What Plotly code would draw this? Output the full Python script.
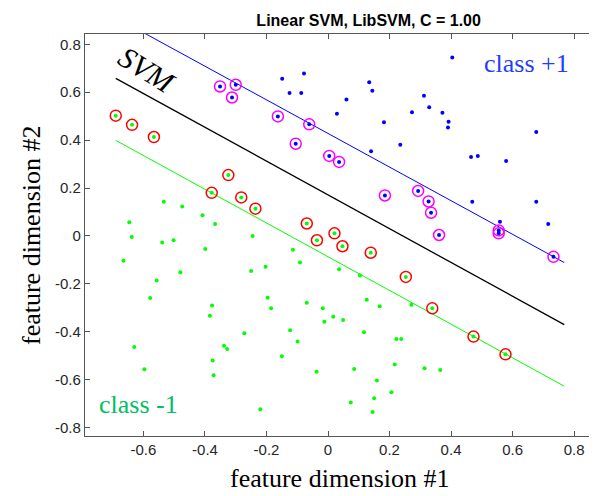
import plotly.graph_objects as go

# ---- data ----
pos_sv_x = [-0.351, -0.300, -0.312, -0.163, -0.061, -0.105, 0.004, 0.036, 0.185, 0.293, 0.327, 0.335, 0.361, 0.555, 0.555, 0.733]
pos_sv_y = [0.624, 0.631, 0.578, 0.499, 0.466, 0.385, 0.334, 0.309, 0.169, 0.188, 0.144, 0.097, 0.004, 0.023, 0.011, -0.087]

pos_x = [-0.149, -0.078, -0.125, -0.087, 0.029, 0.404, 0.134, 0.144, 0.060, 0.312, 0.329, 0.273, 0.372,
         0.182, 0.392, 0.390, 0.235, 0.140, 0.677, 0.465, 0.487, 0.579, 0.469, 0.677, 0.559, 0.716]
pos_y = [0.656, 0.678, 0.597, 0.597, 0.510, 0.745, 0.642, 0.606, 0.570, 0.585, 0.537, 0.516, 0.514,
         0.475, 0.477, 0.453, 0.381, 0.354, 0.434, 0.330, 0.334, 0.313, 0.143, 0.143, 0.059, 0.050]

neg_sv_x = [-0.690, -0.637, -0.566, -0.324, -0.378, -0.282, -0.236, -0.069, -0.036, 0.021,
            0.047, 0.139, 0.253, 0.339, 0.473, 0.577]
neg_sv_y = [0.502, 0.464, 0.413, 0.254, 0.180, 0.161, 0.114, 0.052, -0.018, 0.011,
            -0.043, -0.070, -0.171, -0.302, -0.420, -0.494]

neg_x = [-0.534, -0.474, -0.408, -0.367, -0.646, -0.638, -0.245, -0.539, -0.502, -0.665, -0.399, -0.480,
         -0.557, -0.578, -0.377, -0.384, -0.630, -0.597, -0.338, -0.328, -0.375, -0.372, -0.220, -0.272,
         -0.250, -0.203, -0.196, -0.185, -0.114, -0.091, -0.069, -0.017, -0.012, 0.017, -0.123, -0.099,
         -0.150, -0.037, 0.036, 0.104, 0.049, 0.126, 0.168, 0.271, 0.117, 0.222, 0.238, 0.085, 0.217,
         0.314, 0.365, 0.159, 0.206, 0.150, 0.074, 0.145]
neg_y = [0.143, 0.123, 0.086, 0.050, 0.057, -0.004, 0.000, -0.027, -0.018, -0.104, -0.054, -0.151,
         -0.186, -0.259, -0.290, -0.333, -0.463, -0.556, -0.458, -0.472, -0.520, -0.581, -0.723, -0.406,
         -0.146, -0.129, -0.258, -0.302, -0.058, -0.111, -0.279, -0.302, -0.358, -0.337, -0.394, -0.441,
         -0.502, -0.567, -0.139, -0.165, -0.351, -0.266, -0.293, -0.287, -0.402, -0.430, -0.430, -0.555,
         -0.537, -0.552, -0.560, -0.603, -0.652, -0.677, -0.695, -0.735]

line_x = [-0.69, 0.768]
svm_y = [0.658, -0.370]
pos_margin_y = [0.912, -0.111]
neg_margin_y = [0.399, -0.627]

tick_vals_x = [-0.6, -0.4, -0.2, 0, 0.2, 0.4, 0.6, 0.8]
tick_text_x = ["-0.6", "-0.4", "-0.2", "0", "0.2", "0.4", "0.6", "0.8"]
tick_vals_y = [-0.8, -0.6, -0.4, -0.2, 0, 0.2, 0.4, 0.6, 0.8]
tick_text_y = ["-0.8", "-0.6", "-0.4", "-0.2", "0", "0.2", "0.4", "0.6", "0.8"]

serif = "Liberation Serif, Times New Roman, serif"
sans = "Liberation Sans, Arial, Helvetica, sans-serif"

fig = go.Figure()
fig.add_trace(go.Scatter(x=line_x, y=pos_margin_y, mode="lines", line=dict(color="#0000ff", width=1), showlegend=False))
fig.add_trace(go.Scatter(x=line_x, y=svm_y, mode="lines", line=dict(color="#000000", width=1.3), showlegend=False))
fig.add_trace(go.Scatter(x=line_x, y=neg_margin_y, mode="lines", line=dict(color="#00ff00", width=1), showlegend=False))

fig.add_trace(go.Scatter(x=pos_sv_x, y=pos_sv_y, mode="markers",
                         marker=dict(symbol="circle-open", size=11, color="#ff00ff", line=dict(width=1.5)), showlegend=False))
fig.add_trace(go.Scatter(x=neg_sv_x, y=neg_sv_y, mode="markers",
                         marker=dict(symbol="circle-open", size=11, color="#ff0000", line=dict(width=1.5)), showlegend=False))
fig.add_trace(go.Scatter(x=pos_x + pos_sv_x, y=pos_y + pos_sv_y, mode="markers",
                         marker=dict(size=4, color="#0000ff"), showlegend=False))
fig.add_trace(go.Scatter(x=neg_x + neg_sv_x, y=neg_y + neg_sv_y, mode="markers",
                         marker=dict(size=4, color="#00ff00"), showlegend=False))

axis_common = dict(showline=True, linecolor="#555555", linewidth=1.2, mirror="ticks", ticks="inside",
                   ticklen=5, tickcolor="#555555", showgrid=False, zeroline=False,
                   tickfont=dict(family=sans, size=15, color="#262626"))
fig.update_xaxes(range=[-0.79, 0.868], tickvals=tick_vals_x, ticktext=tick_text_x, **axis_common)
fig.update_yaxes(range=[-0.835, 0.843], tickvals=tick_vals_y, ticktext=tick_text_y, **axis_common)

fig.update_layout(
    width=597, height=496,
    margin=dict(l=77, r=10, t=26, b=68),
    paper_bgcolor="white", plot_bgcolor="white",
    title=dict(text="<b>Linear SVM, LibSVM, C = 1.00</b>", x=332/597, xanchor="center",
               y=1 - 12/496, yanchor="middle", yref="container", xref="paper",
               font=dict(family=sans, size=16, color="#000000")),
    annotations=[
        dict(text="feature dimension #1", xref="paper", yref="paper", x=0.5, y=-43/402,
             xanchor="center", yanchor="middle", showarrow=False,
             font=dict(family=serif, size=26, color="#000000")),
        dict(text="feature dimension #2", xref="paper", yref="paper", x=-54/510, y=0.5,
             xanchor="center", yanchor="middle", showarrow=False, textangle=-90,
             font=dict(family=serif, size=26, color="#000000")),
        dict(text="<i>SVM</i>", x=-0.59, y=0.695, xref="x", yref="y", showarrow=False,
             textangle=32, xanchor="center", yanchor="middle",
             font=dict(family=serif, size=30, color="#000000")),
        dict(text="class +1", x=0.645, y=0.72, xref="x", yref="y", showarrow=False,
             xanchor="center", yanchor="middle",
             font=dict(family=serif, size=26, color="#1f3cff")),
        dict(text="class -1", x=-0.615, y=-0.705, xref="x", yref="y", showarrow=False,
             xanchor="center", yanchor="middle",
             font=dict(family=serif, size=26, color="#00c060")),
    ],
)

fig.write_html("out.html")
